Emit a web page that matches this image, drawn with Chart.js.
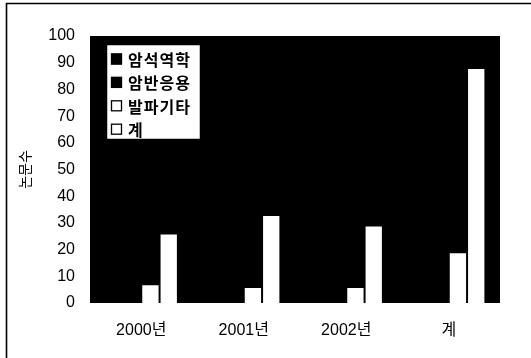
<!DOCTYPE html>
<html>
<head>
<meta charset="utf-8">
<script src="https://cdn.jsdelivr.net/npm/chart.js@4/dist/chart.umd.min.js"></script>
<style>
  html, body { margin: 0; padding: 0; background: #fff; }
  #wrap { width: 531px; height: 358px; position: relative; }
</style>
</head>
<body>
<div id="wrap"><canvas id="chart" width="531" height="358"></canvas></div>
<script>
// 연도별 논문수
const categories = ['2000년', '2001년', '2002년', '계'];
const seriesNames = ['암석역학', '암반응용', '발파기타', '계'];
const rockMechanics = [12, 16, 14, 42];
const rockApplication = [7, 11, 9, 27];
const blastingEtc = [7, 6, 6, 19];
const totals = [26, 33, 29, 88];
const axisTitle = '논문수';

const LATIN = "'Liberation Sans', 'Noto Sans CJK KR', sans-serif";
const KOREAN = "'Noto Sans CJK KR', 'Liberation Sans', sans-serif";

const fills = ['#000000', '#000000', '#ffffff', '#ffffff'];

// black plot area plus the outer frame lines
const plotBackground = {
  id: 'plotBackground',
  beforeDraw(chart) {
    const { ctx, chartArea: a } = chart;
    ctx.save();
    ctx.fillStyle = '#fff';
    ctx.fillRect(0, 0, chart.width, chart.height);
    ctx.fillStyle = '#000';
    ctx.fillRect(a.left, a.top, a.right - a.left, a.bottom - a.top);
    ctx.strokeStyle = '#000';
    ctx.lineWidth = 1.6;
    ctx.beginPath();
    ctx.moveTo(6.5, chart.height + 2);
    ctx.lineTo(6.5, 3.5);
    ctx.lineTo(chart.width + 2, 3.5);
    ctx.stroke();
    ctx.restore();
  }
};

// boxed legend drawn inside the plot area
const boxLegend = {
  id: 'boxLegend',
  afterDatasetsDraw(chart) {
    const { ctx, chartArea: a } = chart;
    const x = a.left + 16, y = a.top + 8, w = 95, h = 96;
    ctx.save();
    ctx.fillStyle = '#fff';
    ctx.fillRect(x, y, w, h);
    ctx.strokeStyle = '#000';
    ctx.lineWidth = 1.5;
    ctx.strokeRect(x + 0.5, y + 0.5, w - 1, h - 1);
    ctx.font = 'bold 16px ' + KOREAN;
    if ('letterSpacing' in ctx) ctx.letterSpacing = '1px';
    ctx.textBaseline = 'middle';
    chart.data.datasets.forEach((ds, i) => {
      const cy = y + 15 + i * 23.4;
      ctx.fillStyle = ds.backgroundColor;
      ctx.fillRect(x + 5, cy - 5.5, 11, 11);
      ctx.lineWidth = 1.3;
      ctx.strokeStyle = '#000';
      ctx.strokeRect(x + 5.5, cy - 5, 10, 10);
      ctx.fillStyle = '#000';
      ctx.fillText(ds.label, x + 22, cy + 1);
    });
    ctx.restore();
  }
};

const valueLists = [rockMechanics, rockApplication, blastingEtc, totals];

new Chart(document.getElementById('chart'), {
  type: 'bar',
  data: {
    labels: categories,
    datasets: seriesNames.map((name, i) => ({
      label: name,
      data: valueLists[i],
      backgroundColor: fills[i],
      borderColor: '#000',
      borderWidth: 1,
      categoryPercentage: 0.715,
      barPercentage: 1
    }))
  },
  options: {
    responsive: false,
    devicePixelRatio: 1,
    animation: false,
    layout: { padding: { top: 36, right: 31, bottom: 0, left: 0 } },
    plugins: {
      legend: { display: false },
      tooltip: { enabled: false }
    },
    scales: {
      x: {
        grid: { display: false, drawTicks: false },
        border: { display: false },
        ticks: {
          color: '#000',
          font: { family: LATIN, size: 16 },
          padding: 18,
          maxRotation: 0
        },
        afterFit(s) { s.height = 55; }
      },
      y: {
        min: 0,
        max: 100,
        grid: { display: false, drawTicks: false },
        border: { display: false },
        ticks: {
          stepSize: 10,
          color: '#000',
          font: { family: LATIN, size: 16 },
          padding: 15
        },
        title: {
          display: true,
          text: axisTitle,
          color: '#000',
          font: { family: KOREAN, size: 14 },
          padding: { top: 16, bottom: 0 }
        },
        afterFit(s) { s.width = 90; }
      }
    }
  },
  plugins: [plotBackground, boxLegend]
});
</script>
</body>
</html>
